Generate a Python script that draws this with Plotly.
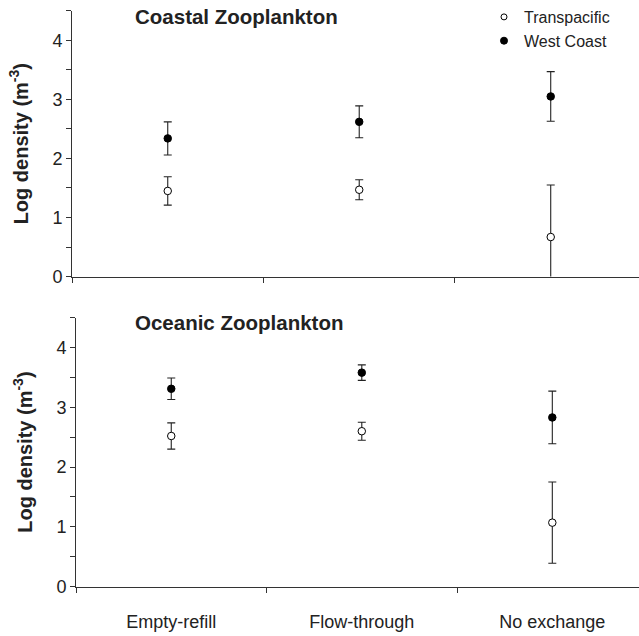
import plotly.graph_objects as go

categories = ["Empty-refill", "Flow-through", "No exchange"]

# Coastal zooplankton (top panel)
coastal_tp = [1.45, 1.47, 0.67]
coastal_tp_err = [0.24, 0.17, 0.88]
coastal_wc = [2.34, 2.62, 3.05]
coastal_wc_err = [0.28, 0.27, 0.42]

# Oceanic zooplankton (bottom panel)
oceanic_tp = [2.52, 2.60, 1.07]
oceanic_tp_err = [0.22, 0.15, 0.68]
oceanic_wc = [3.31, 3.58, 2.83]
oceanic_wc_err = [0.18, 0.13, 0.44]

yticks = [0, 0.5, 1, 1.5, 2, 2.5, 3, 3.5, 4, 4.5]
yticktext = ["0", "", "1", "", "2", "", "3", "", "4", ""]

W, H = 639, 636
FONT = "Liberation Sans, Arial, sans-serif"
TXT = "#222222"
AX = "#333333"

fig = go.Figure()

def add_pair(tp, tp_err, wc, wc_err, xa, ya):
    fig.add_trace(go.Scatter(
        x=categories, y=tp, mode="markers", name="Transpacific",
        xaxis=xa, yaxis=ya, showlegend=False,
        marker=dict(symbol="circle", size=7.5, color="white",
                    line=dict(color="black", width=1)),
        error_y=dict(type="data", array=tp_err, visible=True,
                     color="#222222", thickness=1.1, width=4),
    ))
    fig.add_trace(go.Scatter(
        x=categories, y=wc, mode="markers", name="West Coast",
        xaxis=xa, yaxis=ya, showlegend=False,
        marker=dict(symbol="circle", size=7.5, color="black",
                    line=dict(color="black", width=1)),
        error_y=dict(type="data", array=wc_err, visible=True,
                     color="#222222", thickness=1.1, width=4),
    ))

add_pair(coastal_tp, coastal_tp_err, coastal_wc, coastal_wc_err, "x", "y")
add_pair(oceanic_tp, oceanic_tp_err, oceanic_wc, oceanic_wc_err, "x2", "y2")

# legend entries (small symbols, as in the reference)
fig.add_trace(go.Scatter(x=[None], y=[None], mode="markers", name="Transpacific",
                         marker=dict(size=6, color="white", line=dict(color="black", width=1)),
                         legendrank=1))
fig.add_trace(go.Scatter(x=[None], y=[None], mode="markers", name="West Coast",
                         marker=dict(size=7, color="black", line=dict(color="black", width=1)),
                         legendrank=2))

xcommon = dict(type="category", tickson="boundaries", ticks="outside", ticklen=5,
               tickcolor=AX, showline=True, linecolor=AX, linewidth=1,
               showgrid=False, zeroline=False, ticklabelstandoff=19,
               tickfont=dict(family=FONT, size=18, color=TXT))
ycommon = dict(range=[0, 4.5], tickvals=yticks, ticktext=yticktext,
               ticks="outside", ticklen=5, tickcolor=AX, showline=True,
               linecolor=AX, linewidth=1, showgrid=False, zeroline=False,
               tickfont=dict(family=FONT, size=18, color=TXT),
               title=dict(text="<b>Log density (m<sup>-3</sup>)</b>",
                          font=dict(family=FONT, size=20, color=TXT), standoff=18))

fig.update_layout(
    width=W, height=H, margin=dict(l=0, r=0, t=0, b=0),
    plot_bgcolor="white", paper_bgcolor="white",
    xaxis=dict(xcommon, domain=[72 / W, 1], range=[-0.5, 2.461],
               anchor="y", showticklabels=False),
    yaxis=dict(ycommon, domain=[(H - 281) / H, (H - 11) / H], anchor="x"),
    xaxis2=dict(xcommon, domain=[76 / W, 1], range=[-0.5, 2.455], anchor="y2"),
    yaxis2=dict(ycommon, domain=[(H - 596) / H, (H - 322.7) / H], anchor="x2"),
    showlegend=True,
    legend=dict(x=484 / W, y=1.0, xanchor="left", yanchor="top",
                bgcolor="rgba(0,0,0,0)", itemsizing="trace",
                font=dict(family=FONT, size=16, color=TXT), tracegroupgap=0),
    annotations=[
        dict(text="<b>Coastal Zooplankton</b>", x=133 / W, y=(H - 17) / H,
             xref="paper", yref="paper", xanchor="left", yanchor="middle",
             showarrow=False, font=dict(family=FONT, size=20.5, color=TXT)),
        dict(text="<b>Oceanic Zooplankton</b>", x=133 / W, y=(H - 328) / H,
             xref="paper", yref="paper", xanchor="left", yanchor="middle",
             showarrow=False, font=dict(family=FONT, size=20.5, color=TXT)),
    ],
)

fig.write_html("out.html")
